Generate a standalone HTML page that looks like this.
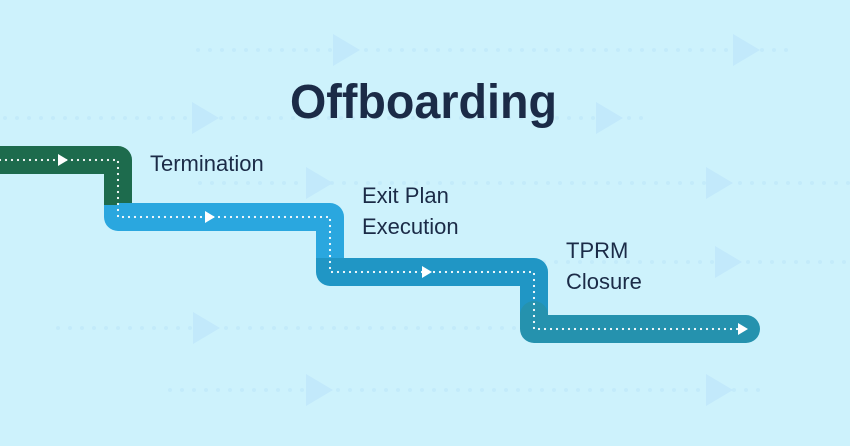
<!DOCTYPE html>
<html><head><meta charset="utf-8"><style>
html,body{margin:0;padding:0;background:#cdf2fc;}
svg{display:block;}
</style></head><body>
<svg width="850" height="446" viewBox="0 0 850 446" xmlns="http://www.w3.org/2000/svg">
<rect width="850" height="446" fill="#cdf2fc"/>
<g stroke="#c3ebfa" stroke-width="4" stroke-linecap="round" stroke-dasharray="0 12" fill="none">
<line x1="198" y1="50" x2="790" y2="50"/>
<line x1="5" y1="118" x2="650" y2="118"/>
<line x1="200" y1="183" x2="850" y2="183"/>
<line x1="400" y1="262" x2="850" y2="262"/>
<line x1="58" y1="328" x2="520" y2="328"/>
<line x1="170" y1="390" x2="770" y2="390"/>
</g>
<g fill="#c2e9fb">
<polygon points="333,34 333,66 360,50"/>
<polygon points="733,34 733,66 760,50"/>
<polygon points="192,102 192,134 219,118"/>
<polygon points="596,102 596,134 623,118"/>
<polygon points="306,167 306,199 333,183"/>
<polygon points="706,167 706,199 733,183"/>
<polygon points="715,246 715,278 742,262"/>
<polygon points="193,312 193,344 220,328"/>
<polygon points="306,374 306,406 333,390"/>
<polygon points="706,374 706,406 733,390"/>
</g>
<g fill="none" stroke-width="28" stroke-linejoin="round" stroke-linecap="butt">
<path d="M-10 160 H118 V205" stroke="#1d6b4d"/>
<path d="M118 205 V217 H330 V260" stroke="#2aa7df"/>
<path d="M330 258 V272 H534 V316" stroke="#2096c5"/>
<path d="M534 315 V329 H746" stroke="#2592ae" stroke-linecap="round"/>
</g>
<g fill="none" stroke="#fff" stroke-width="2.2" stroke-linecap="round" stroke-dasharray="0 6">
<path d="M0 160 H118 V217 H330 V272 H534 V329 H740"/>
</g>
<g fill="#fff">
<polygon points="58,154 58,166 68,160"/>
<polygon points="205,211 205,223 215,217"/>
<polygon points="422,266 422,278 432,272"/>
<polygon points="738,323 738,335 748,329"/>
</g>
<text x="290" y="118" font-family="Liberation Sans, sans-serif" font-weight="bold" font-size="48" fill="#1b2b47" textLength="267" lengthAdjust="spacingAndGlyphs">Offboarding</text>
<g font-family="Liberation Sans, sans-serif" font-size="22" fill="#1b2b47">
<text x="150" y="171">Termination</text>
<text x="362" y="203">Exit Plan</text>
<text x="362" y="234">Execution</text>
<text x="566" y="258">TPRM</text>
<text x="566" y="289">Closure</text>
</g>
</svg>
</body></html>
